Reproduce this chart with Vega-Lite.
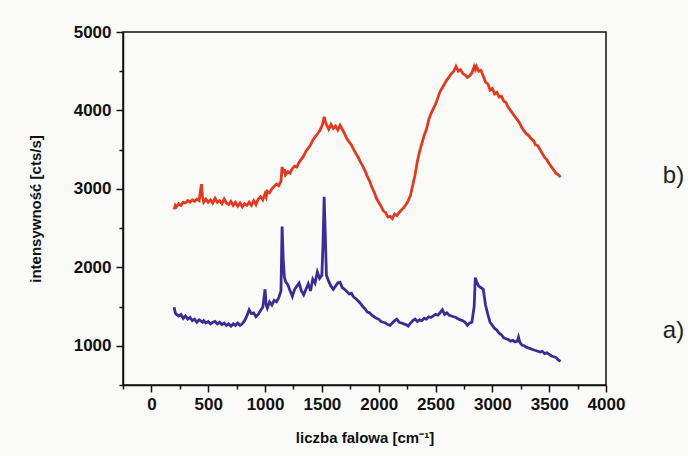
{
  "$schema": "https://vega.github.io/schema/vega-lite/v6.json",
  "width": 483,
  "height": 353,
  "autosize": {"type": "none"},
  "padding": {"left": 123, "top": 32, "right": 82, "bottom": 71},
  "background": "#fafaf8",
  "config": {"view": {"stroke": "#111", "strokeWidth": 1.5}, "font": "Liberation Sans"},
  "resolve": {"axis": {"x": "independent", "y": "independent"}},
  "datasets": {
    "spec": [
      {"x":200,"a":1490,"b":2740},{"x":210,"a":1420,"b":2790},{"x":220,"a":1400,"b":2770},{"x":240,"a":1380,"b":2810},
      {"x":260,"a":1400,"b":2790},{"x":280,"a":1350,"b":2830},{"x":300,"a":1380,"b":2820},{"x":320,"a":1340,"b":2850},
      {"x":340,"a":1360,"b":2830},{"x":360,"a":1320,"b":2860},{"x":380,"a":1340,"b":2840},{"x":400,"a":1300,"b":2870},
      {"x":420,"a":1330,"b":2850},{"x":440,"a":1310,"b":3060},{"x":450,"a":1300,"b":2900},{"x":460,"a":1320,"b":2830},
      {"x":480,"a":1290,"b":2870},{"x":500,"a":1310,"b":2830},{"x":520,"a":1280,"b":2860},{"x":540,"a":1300,"b":2820},
      {"x":560,"a":1310,"b":2880},{"x":580,"a":1280,"b":2830},{"x":600,"a":1300,"b":2850},{"x":620,"a":1270,"b":2810},
      {"x":640,"a":1290,"b":2870},{"x":660,"a":1260,"b":2820},{"x":680,"a":1280,"b":2800},{"x":700,"a":1250,"b":2840},
      {"x":720,"a":1280,"b":2790},{"x":740,"a":1260,"b":2830},{"x":760,"a":1290,"b":2780},{"x":780,"a":1260,"b":2820},
      {"x":800,"a":1280,"b":2770},{"x":820,"a":1320,"b":2810},{"x":840,"a":1380,"b":2790},{"x":860,"a":1460,"b":2830},
      {"x":880,"a":1410,"b":2790},{"x":900,"a":1420,"b":2850},{"x":920,"a":1370,"b":2800},{"x":940,"a":1400,"b":2870},
      {"x":960,"a":1450,"b":2900},{"x":980,"a":1490,"b":2860},{"x":1000,"a":1720,"b":2940},{"x":1010,"a":1520,"b":2900},
      {"x":1020,"a":1480,"b":2970},{"x":1040,"a":1560,"b":2950},{"x":1060,"a":1520,"b":3000},{"x":1080,"a":1580,"b":3030},
      {"x":1100,"a":1560,"b":3060},{"x":1120,"a":1610,"b":3040},{"x":1140,"a":1700,"b":3100},{"x":1150,"a":2520,"b":3280},
      {"x":1160,"a":2100,"b":3200},{"x":1170,"a":1880,"b":3250},{"x":1180,"a":1820,"b":3180},{"x":1200,"a":1780,"b":3220},
      {"x":1220,"a":1700,"b":3200},{"x":1240,"a":1630,"b":3260},{"x":1260,"a":1720,"b":3290},{"x":1280,"a":1760,"b":3280},
      {"x":1300,"a":1800,"b":3340},{"x":1320,"a":1700,"b":3380},{"x":1340,"a":1650,"b":3420},{"x":1360,"a":1720,"b":3480},
      {"x":1380,"a":1790,"b":3520},{"x":1400,"a":1700,"b":3560},{"x":1420,"a":1850,"b":3620},{"x":1440,"a":1800,"b":3660},
      {"x":1460,"a":1940,"b":3700},{"x":1480,"a":1860,"b":3740},{"x":1500,"a":1900,"b":3800},{"x":1510,"a":2300,"b":3850},
      {"x":1520,"a":2900,"b":3920},{"x":1530,"a":2400,"b":3860},{"x":1540,"a":1900,"b":3820},{"x":1560,"a":1820,"b":3760},
      {"x":1580,"a":1760,"b":3820},{"x":1600,"a":1720,"b":3770},{"x":1620,"a":1760,"b":3800},{"x":1640,"a":1800,"b":3750},
      {"x":1660,"a":1810,"b":3810},{"x":1680,"a":1740,"b":3760},{"x":1700,"a":1720,"b":3700},{"x":1720,"a":1690,"b":3640},
      {"x":1740,"a":1660,"b":3600},{"x":1760,"a":1670,"b":3560},{"x":1780,"a":1620,"b":3500},{"x":1800,"a":1600,"b":3450},
      {"x":1820,"a":1570,"b":3400},{"x":1840,"a":1540,"b":3340},{"x":1860,"a":1500,"b":3290},{"x":1880,"a":1470,"b":3230},
      {"x":1900,"a":1430,"b":3160},{"x":1920,"a":1420,"b":3100},{"x":1940,"a":1390,"b":3020},{"x":1960,"a":1370,"b":2960},
      {"x":1980,"a":1350,"b":2880},{"x":2000,"a":1340,"b":2830},{"x":2020,"a":1310,"b":2780},{"x":2040,"a":1300,"b":2720},
      {"x":2060,"a":1290,"b":2700},{"x":2080,"a":1270,"b":2640},{"x":2100,"a":1260,"b":2650},{"x":2120,"a":1290,"b":2620},
      {"x":2140,"a":1320,"b":2680},{"x":2160,"a":1340,"b":2660},{"x":2180,"a":1300,"b":2700},{"x":2200,"a":1290,"b":2730},
      {"x":2220,"a":1280,"b":2760},{"x":2240,"a":1270,"b":2800},{"x":2260,"a":1250,"b":2850},{"x":2280,"a":1290,"b":2920},
      {"x":2300,"a":1320,"b":3050},{"x":2320,"a":1340,"b":3180},{"x":2340,"a":1310,"b":3350},{"x":2360,"a":1330,"b":3480},
      {"x":2380,"a":1320,"b":3580},{"x":2400,"a":1350,"b":3680},{"x":2420,"a":1340,"b":3760},{"x":2440,"a":1370,"b":3880},
      {"x":2460,"a":1360,"b":3960},{"x":2480,"a":1380,"b":4020},{"x":2500,"a":1400,"b":4080},{"x":2520,"a":1390,"b":4160},
      {"x":2540,"a":1420,"b":4240},{"x":2560,"a":1460,"b":4290},{"x":2580,"a":1400,"b":4340},{"x":2600,"a":1420,"b":4390},
      {"x":2620,"a":1390,"b":4430},{"x":2640,"a":1380,"b":4470},{"x":2660,"a":1370,"b":4500},{"x":2680,"a":1360,"b":4560},
      {"x":2700,"a":1340,"b":4500},{"x":2720,"a":1330,"b":4520},{"x":2740,"a":1320,"b":4470},{"x":2760,"a":1300,"b":4450},
      {"x":2780,"a":1260,"b":4420},{"x":2800,"a":1290,"b":4440},{"x":2820,"a":1300,"b":4480},{"x":2840,"a":1500,"b":4560},
      {"x":2850,"a":1870,"b":4520},{"x":2860,"a":1820,"b":4560},{"x":2880,"a":1760,"b":4500},{"x":2900,"a":1740,"b":4510},
      {"x":2920,"a":1720,"b":4440},{"x":2940,"a":1520,"b":4360},{"x":2960,"a":1400,"b":4340},{"x":2980,"a":1300,"b":4260},
      {"x":3000,"a":1260,"b":4280},{"x":3020,"a":1220,"b":4210},{"x":3040,"a":1200,"b":4230},{"x":3060,"a":1160,"b":4170},
      {"x":3080,"a":1140,"b":4180},{"x":3100,"a":1100,"b":4120},{"x":3120,"a":1090,"b":4100},{"x":3140,"a":1080,"b":4040},
      {"x":3160,"a":1060,"b":4000},{"x":3180,"a":1070,"b":3960},{"x":3200,"a":1050,"b":3920},{"x":3220,"a":1060,"b":3880},
      {"x":3230,"a":1110,"b":3860},{"x":3240,"a":1050,"b":3840},{"x":3260,"a":1010,"b":3780},{"x":3280,"a":1000,"b":3740},
      {"x":3300,"a":980,"b":3700},{"x":3320,"a":970,"b":3680},{"x":3340,"a":960,"b":3640},{"x":3360,"a":950,"b":3620},
      {"x":3380,"a":940,"b":3560},{"x":3400,"a":930,"b":3550},{"x":3420,"a":920,"b":3500},{"x":3440,"a":930,"b":3450},
      {"x":3460,"a":900,"b":3400},{"x":3480,"a":910,"b":3370},{"x":3500,"a":890,"b":3320},{"x":3520,"a":870,"b":3280},
      {"x":3540,"a":860,"b":3240},{"x":3560,"a":850,"b":3200},{"x":3580,"a":820,"b":3180},{"x":3600,"a":800,"b":3150}
    ],
    "labels": [
      {"x": 4500, "value": 3170, "t": "b)"},
      {"x": 4500, "value": 1190, "t": "a)"}
    ]
  },
  "layer": [
    {
      "data": {"name": "spec"},
      "transform": [{"fold": ["a", "b"], "as": ["series", "value"]}],
      "mark": {"type": "line", "strokeWidth": 2.8, "clip": true},
      "encoding": {
        "x": {
          "field": "x", "type": "quantitative",
          "scale": {"domain": [-250, 4000], "nice": false, "zero": false},
          "axis": {
            "orient": "bottom",
            "title": "liczba falowa [cm⁻¹]",
            "values": [0, 500, 1000, 1500, 2000, 2500, 3000, 3500, 4000],
            "labelExpr": "replace(datum.label, ',', '')",
            "labelFlush": false,
            "grid": false,
            "domainColor": "#111", "domainWidth": 1.5,
            "tickColor": "#111", "tickWidth": 1.5, "tickSize": 7,
            "labelFontWeight": "bold", "labelFontSize": 17, "labelColor": "#111",
            "labelPadding": 4,
            "titleFontWeight": "bold", "titleFontSize": 15, "titleColor": "#111",
            "titlePadding": 18
          }
        },
        "y": {
          "field": "value", "type": "quantitative",
          "scale": {"domain": [500, 5000], "nice": false, "zero": false},
          "axis": {
            "orient": "left",
            "title": "intensywność [cts/s]",
            "values": [1000, 2000, 3000, 4000, 5000],
            "labelExpr": "replace(datum.label, ',', '')",
            "grid": false,
            "domainColor": "#111", "domainWidth": 1.5,
            "tickColor": "#111", "tickWidth": 1.5, "tickSize": 7,
            "labelFontWeight": "bold", "labelFontSize": 17, "labelColor": "#111",
            "labelPadding": 5,
            "titleFontWeight": "bold", "titleFontSize": 15, "titleColor": "#111",
            "titlePadding": 30
          }
        },
        "color": {
          "field": "series", "type": "nominal",
          "scale": {"domain": ["a", "b"], "range": ["#3d2c95", "#e4391f"]},
          "legend": null
        }
      }
    },
    {
      "data": {"name": "labels"},
      "mark": {"type": "text", "align": "left", "baseline": "middle", "fontSize": 24, "color": "#222"},
      "encoding": {
        "x": {
          "field": "x", "type": "quantitative",
          "scale": {"domain": [-250, 4000], "nice": false, "zero": false},
          "axis": {"orient": "bottom", "title": null, "labels": false, "domain": false, "grid": false,
                   "values": [-250, 250, 750, 1250, 1750, 2250, 2750, 3250, 3750],
                   "tickColor": "#111", "tickWidth": 1.5, "tickSize": 4}
        },
        "y": {
          "field": "value", "type": "quantitative",
          "scale": {"domain": [500, 5000], "nice": false, "zero": false},
          "axis": {"orient": "left", "title": null, "labels": false, "domain": false, "grid": false,
                   "values": [500, 1500, 2500, 3500, 4500],
                   "tickColor": "#111", "tickWidth": 1.5, "tickSize": 4}
        },
        "text": {"field": "t"}
      }
    }
  ]
}
